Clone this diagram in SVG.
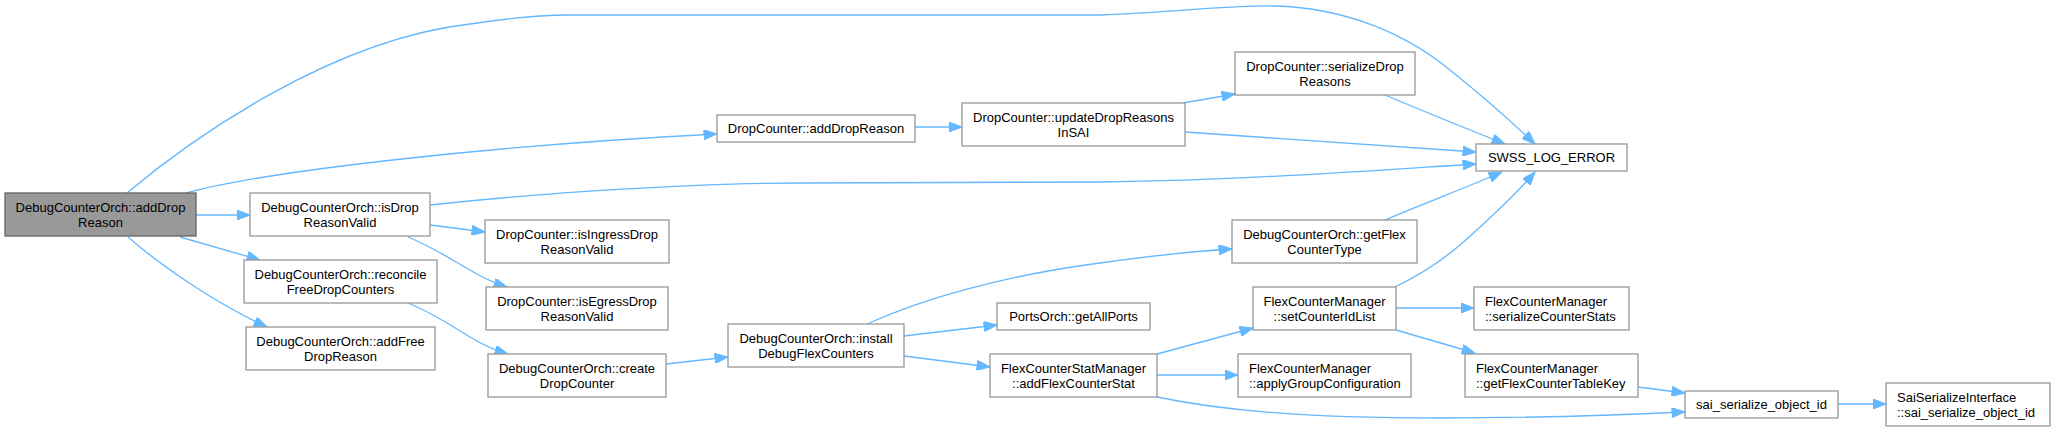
<svg xmlns="http://www.w3.org/2000/svg" width="2052" height="431" viewBox="0 0 2052 431">
<defs>
<style>
.n rect{fill:#ffffff;stroke:#999999;stroke-width:1.33}
.n.main rect{fill:#999999;stroke:#666666}
.n text{font-family:"Liberation Sans",Arial,sans-serif;font-size:13px;fill:#000000;text-anchor:middle}
.n text.l{text-anchor:start}
.e path{fill:none;stroke:#63b8ff;stroke-width:1.33;marker-end:url(#arr)}
</style>
<marker id="arr" markerUnits="userSpaceOnUse" markerWidth="14" markerHeight="10" refX="13" refY="5" orient="auto" viewBox="0 0 13 10">
<path d="M0,0 L13,5 L0,10 z" fill="#63b8ff" stroke="#63b8ff" stroke-width="1"/>
</marker>
</defs>
<rect width="2052" height="431" fill="#ffffff"/>
<g id="edges" class="e">
<path d="M127,193 C190,140 330,40 470,24 C510,18 540,15 567,15 L1100,15 C1180,12 1230,5 1275,6 C1345,8 1405,33 1450,70 C1490,102 1515,125 1535,144"/>
<path d="M186,193 C270,170 500,145 717,134"/>
<path d="M196,215 L250,215"/>
<path d="M180,237 L260,260"/>
<path d="M128,237 C160,265 215,303 267,327"/>
<path d="M430,205 C550,192 700,183 800,183 L1100,182 C1250,180 1380,170 1476,164"/>
<path d="M430,225 L485,232"/>
<path d="M408,237 C435,248 455,262 470,270 C483,278 494,283 507,287"/>
<path d="M408,303 C435,314 455,328 470,337 C483,345 494,350 508,354"/>
<path d="M666,364 L728,357"/>
<path d="M915,127 L962,127"/>
<path d="M1183,103 L1235,94"/>
<path d="M1185,132 C1300,140 1400,147 1476,152"/>
<path d="M1385,95 C1425,112 1470,130 1505,144"/>
<path d="M1385,220 C1425,203 1470,186 1502,172"/>
<path d="M1395,287 C1420,275 1440,262 1460,245 C1492,217 1517,193 1535,172"/>
<path d="M867,324 C920,300 1000,276 1100,263 C1150,256 1200,251 1232,249"/>
<path d="M904,336 L997,325"/>
<path d="M904,356 L990,367"/>
<path d="M1157,354 L1253,328"/>
<path d="M1157,375 L1238,375"/>
<path d="M1157,397 C1220,410 1300,418 1440,418 C1550,418 1620,415 1685,412"/>
<path d="M1396,308 L1474,308"/>
<path d="M1396,330 L1475,353"/>
<path d="M1638,387 L1685,393"/>
<path d="M1838,404 L1886,404"/>
</g>
<g id="n1" class="n main"><rect x="5" y="193" width="191" height="43"/><text x="100.5" y="212">DebugCounterOrch::addDrop</text><text x="100.5" y="227">Reason</text></g>
<g id="n2" class="n"><rect x="250" y="193" width="180" height="43"/><text x="340" y="212">DebugCounterOrch::isDrop</text><text x="340" y="227">ReasonValid</text></g>
<g id="n3" class="n"><rect x="244" y="260" width="193" height="43"/><text x="340.5" y="279">DebugCounterOrch::reconcile</text><text x="340.5" y="294">FreeDropCounters</text></g>
<g id="n4" class="n"><rect x="246" y="327" width="189" height="43"/><text x="340.5" y="346">DebugCounterOrch::addFree</text><text x="340.5" y="361">DropReason</text></g>
<g id="n5" class="n"><rect x="485" y="220" width="184" height="43"/><text x="577" y="239">DropCounter::isIngressDrop</text><text x="577" y="254">ReasonValid</text></g>
<g id="n6" class="n"><rect x="486" y="287" width="182" height="43"/><text x="577" y="306">DropCounter::isEgressDrop</text><text x="577" y="321">ReasonValid</text></g>
<g id="n7" class="n"><rect x="488" y="354" width="178" height="43"/><text x="577" y="373">DebugCounterOrch::create</text><text x="577" y="388">DropCounter</text></g>
<g id="n8" class="n"><rect x="717" y="115" width="198" height="27"/><text x="816" y="133">DropCounter::addDropReason</text></g>
<g id="n9" class="n"><rect x="962" y="103" width="223" height="43"/><text x="1073.5" y="122">DropCounter::updateDropReasons</text><text x="1073.5" y="137">InSAI</text></g>
<g id="n10" class="n"><rect x="1235" y="52" width="180" height="43"/><text x="1325" y="71">DropCounter::serializeDrop</text><text x="1325" y="86">Reasons</text></g>
<g id="n11" class="n"><rect x="1476" y="144" width="151" height="27"/><text x="1551.5" y="162">SWSS_LOG_ERROR</text></g>
<g id="n12" class="n"><rect x="1232" y="220" width="185" height="43"/><text x="1324.5" y="239">DebugCounterOrch::getFlex</text><text x="1324.5" y="254">CounterType</text></g>
<g id="n13" class="n"><rect x="728" y="324" width="176" height="43"/><text x="816" y="343">DebugCounterOrch::install</text><text x="816" y="358">DebugFlexCounters</text></g>
<g id="n14" class="n"><rect x="997" y="303" width="153" height="27"/><text x="1073.5" y="321">PortsOrch::getAllPorts</text></g>
<g id="n15" class="n"><rect x="990" y="354" width="167" height="43"/><text x="1073.5" y="373">FlexCounterStatManager</text><text x="1073.5" y="388">::addFlexCounterStat</text></g>
<g id="n16" class="n"><rect x="1253" y="287" width="143" height="43"/><text x="1324.5" y="306">FlexCounterManager</text><text x="1324.5" y="321">::setCounterIdList</text></g>
<g id="n17" class="n"><rect x="1238" y="354" width="173" height="43"/><text class="l" x="1249" y="373">FlexCounterManager</text><text class="l" x="1249" y="388">::applyGroupConfiguration</text></g>
<g id="n18" class="n"><rect x="1474" y="287" width="155" height="43"/><text class="l" x="1485" y="306">FlexCounterManager</text><text class="l" x="1485" y="321">::serializeCounterStats</text></g>
<g id="n19" class="n"><rect x="1465" y="354" width="173" height="43"/><text class="l" x="1476" y="373">FlexCounterManager</text><text class="l" x="1476" y="388">::getFlexCounterTableKey</text></g>
<g id="n20" class="n"><rect x="1685" y="391" width="153" height="27"/><text x="1761.5" y="409">sai_serialize_object_id</text></g>
<g id="n21" class="n"><rect x="1886" y="383" width="164" height="43"/><text class="l" x="1897" y="402">SaiSerializeInterface</text><text class="l" x="1897" y="417">::sai_serialize_object_id</text></g>
</svg>
